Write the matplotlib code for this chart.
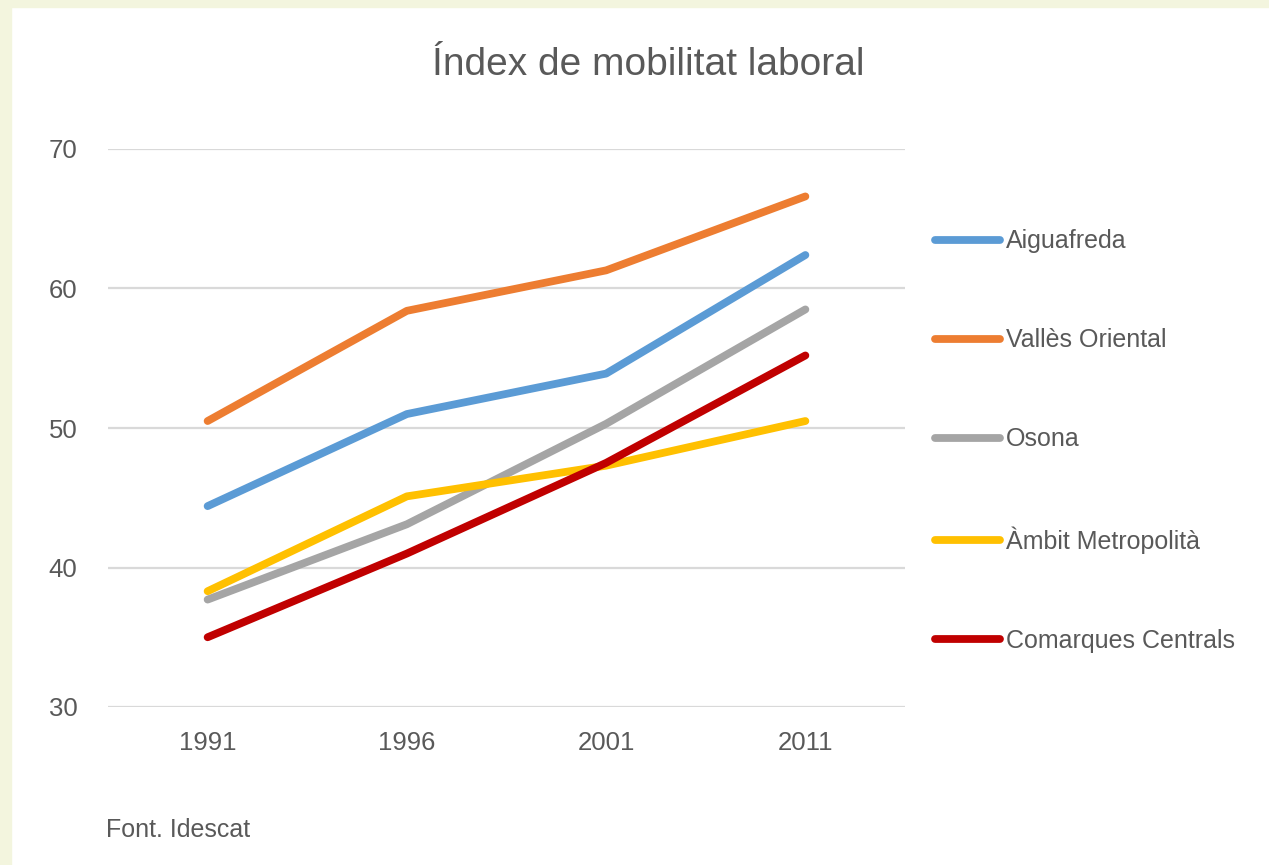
import matplotlib
matplotlib.use("Agg")
import matplotlib.pyplot as plt
from matplotlib.patches import Rectangle

# data
years = ["1991", "1996", "2001", "2011"]
aiguafreda = [44.4, 51.0, 53.9, 62.4]
valles_oriental = [50.5, 58.4, 61.3, 66.6]
osona = [37.7, 43.1, 50.3, 58.5]
ambit_metropolita = [38.3, 45.1, 47.3, 50.5]
comarques_centrals = [35.0, 41.0, 47.5, 55.2]

series_names = ["Aiguafreda", "Vallès Oriental", "Osona", "Àmbit Metropolità", "Comarques Centrals"]
series_values = [aiguafreda, valles_oriental, osona, ambit_metropolita, comarques_centrals]
colors = ["#5B9BD5", "#ED7D31", "#A5A5A5", "#FFC000", "#C00000"]

plt.rcParams['font.family'] = ['Liberation Sans', 'DejaVu Sans']
text_col = "#595959"

fig = plt.figure(figsize=(12.69, 8.65), dpi=100, facecolor="white")
# pale yellow frame on left and top
fig.patches.append(Rectangle((0, 0), 11/1269, 1, transform=fig.transFigure, color="#F3F5DE", zorder=0))
fig.patches.append(Rectangle((0, 1 - 7/865), 1, 7/865, transform=fig.transFigure, color="#F3F5DE", zorder=0))

ax = fig.add_axes([108/1269, 1 - 707/865, (905 - 108)/1269, (707 - 149)/865])
x = range(len(years))
for name, vals, c in zip(series_names, series_values, colors):
    ax.plot(x, vals, color=c, lw=5.6, label=name, solid_capstyle='round', zorder=3)

ax.set_xlim(-0.5, 3.5)
ax.set_ylim(30, 70)
ax.set_yticks([30, 40, 50, 60, 70])
ax.set_xticks(list(x))
ax.set_xticklabels(years)
ax.grid(axis='y', color="#D9D9D9", lw=1.6)
ax.set_axisbelow(True)
for s in ax.spines.values():
    s.set_visible(False)
ax.tick_params(length=0, colors=text_col, labelsize=18.5)
ax.tick_params(axis='y', pad=22)
ax.tick_params(axis='x', pad=17)

fig.text(648/1269, 1 - 65/865, "Índex de mobilitat laboral", ha='center', va='center', fontsize=28, color=text_col)
fig.text(106/1269, 1 - 830/865, "Font. Idescat", ha='left', va='center', fontsize=18, color=text_col)

leg = fig.legend(loc='center left', bbox_to_anchor=(935/1269, 1 - 441/865), frameon=False,
                 fontsize=18, labelspacing=3.0, handlelength=2.6, handletextpad=0.24,
                 borderpad=0, borderaxespad=0, labelcolor=text_col)

fig.savefig("out.png", dpi=100, facecolor=fig.get_facecolor())
